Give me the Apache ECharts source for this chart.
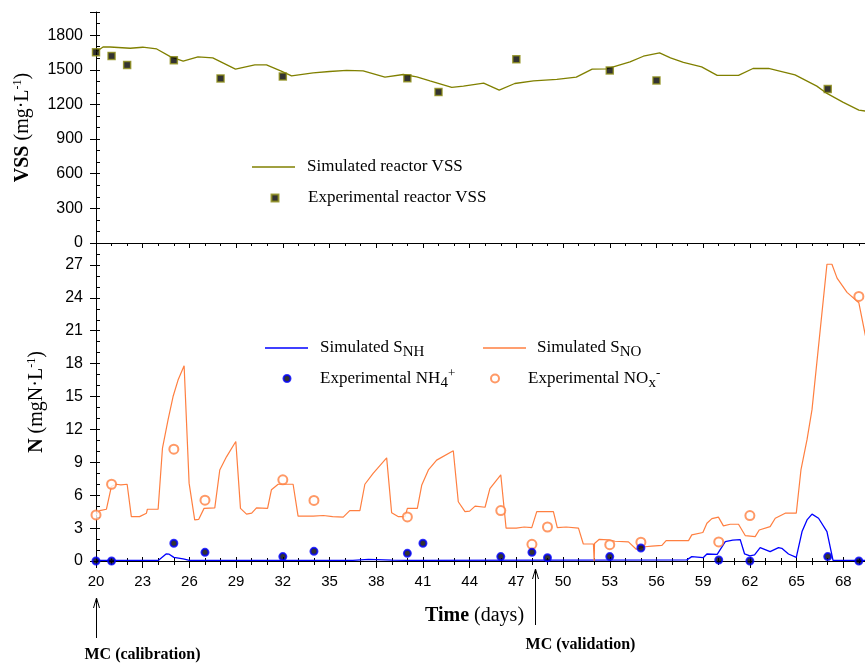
<!DOCTYPE html>
<html>
<head>
<meta charset="utf-8">
<script src="https://cdn.jsdelivr.net/npm/echarts@6/dist/echarts.min.js"></script>
<style>
  html, body { margin: 0; padding: 0; background: #fff; }
  #chart { width: 865px; height: 664px; }
</style>
</head>
<body>
<div id="chart"></div>
<script>
// Day on which the run starts; the x axes count days from here.
const DAY0 = 20;

// Reactor VSS (mg/L)
const vssSimDays = [20, 20.45, 20.9, 22.2, 23, 23.9, 24.8, 25.6, 26.55, 27.5, 28.96, 30.2, 30.95, 31.9, 32.56, 33.95, 35, 36.1, 37.16, 38.56, 39.74, 40.6, 41.45, 42.85, 43.6, 44.9, 45.9, 46.9, 48.1, 49.6, 50.85, 51.87, 52.8, 54.3, 55.16, 56.2, 56.9, 57.73, 58.9, 59.9, 61.27, 62.2, 63.2, 64.9, 66.3, 66.95, 68.0, 69.0, 69.4, 70.5];
const vssSimValues = [1654, 1697, 1697, 1686, 1695, 1680, 1611, 1574, 1611, 1603, 1505, 1542, 1542, 1488, 1447, 1473, 1485, 1494, 1490, 1436, 1459, 1439, 1404, 1347, 1358, 1384, 1324, 1381, 1404, 1416, 1436, 1505, 1508, 1568, 1617, 1646, 1603, 1563, 1525, 1451, 1451, 1511, 1511, 1456, 1358, 1295, 1218, 1151, 1143, 1135];
const vssExpDays = [20, 21, 22, 25, 28, 32, 40, 42, 47, 53, 56, 67];
const vssExpValues = [1652, 1620, 1542, 1583, 1425, 1442, 1427, 1307, 1591, 1494, 1408, 1333];

// Simulated nitrate/nitrite S_NO (mgN/L)
const snoDays = [20, 20.24, 20.67, 20.99, 21.3, 21.6, 22.0, 22.27, 22.8, 23.24, 23.3, 23.99, 24.27, 24.63, 24.95, 25.27, 25.66, 25.98, 26.34, 26.6, 26.94, 27.63, 27.95, 28.38, 28.98, 29.28, 29.67, 30.0, 30.31, 31.02, 31.27, 31.7, 32.66, 32.98, 33.95, 34.6, 35.2, 35.88, 36.3, 36.95, 37.27, 37.8, 38.67, 38.99, 39.4, 39.85, 40.0, 40.64, 40.92, 41.35, 41.88, 42.95, 43.27, 43.7, 44.0, 44.35, 44.99, 45.3, 46.0, 46.34, 47.0, 47.5, 47.99, 48.31, 49.38, 49.63, 50.2, 50.99, 51.3, 51.95, 52.0, 52.02, 52.33, 52.9, 53.34, 54.2, 54.7, 55.27, 55.7, 56.35, 56.62, 58.06, 58.27, 58.98, 59.24, 59.56, 59.98, 60.3, 60.74, 61.27, 61.7, 62.34, 62.6, 63.3, 63.63, 64.27, 64.98, 65.28, 65.67, 65.99, 66.41, 66.95, 67.27, 67.6, 68.24, 69.0, 69.4, 69.8];
const snoValues = [4.2, 4.6, 4.72, 6.8, 7.0, 6.95, 7.0, 4.05, 4.05, 4.36, 4.72, 4.72, 10.3, 12.9, 15.0, 16.5, 17.8, 7.1, 3.75, 3.8, 4.8, 4.85, 8.3, 9.5, 10.9, 4.8, 4.27, 4.36, 4.85, 4.8, 6.5, 7.0, 7.0, 4.1, 4.1, 4.15, 4.05, 4.0, 4.6, 4.6, 7.0, 8.0, 9.4, 4.4, 4.05, 4.05, 4.8, 4.8, 6.9, 8.3, 9.2, 10.05, 5.4, 4.5, 4.55, 5.0, 4.9, 6.6, 7.86, 3.0, 3.0, 3.1, 3.05, 4.5, 4.5, 3.05, 3.1, 3.0, 1.55, 1.55, 0, 1.6, 1.98, 1.92, 1.8, 1.74, 1.07, 1.3, 1.36, 1.42, 1.86, 1.86, 2.38, 2.6, 3.44, 3.87, 4.0, 3.2, 3.35, 3.35, 2.32, 2.22, 2.83, 3.14, 3.9, 4.36, 4.36, 8.3, 11.06, 13.8, 19.6, 27.06, 27.06, 25.8, 24.5, 23.55, 20.7, 18.0];

// Simulated ammonium S_NH (mgN/L)
const snhDays = [20, 24.0, 24.5, 24.7, 25.0, 25.6, 26.0, 36.5, 37.5, 39.0, 40, 57.95, 58.27, 59.0, 59.24, 59.9, 60.42, 60.9, 61.38, 61.66, 62.0, 62.3, 62.66, 63.3, 63.84, 64.05, 64.48, 64.98, 65.35, 65.67, 65.99, 66.41, 66.95, 67.34, 70.5];
const snhValues = [0.05, 0.05, 0.64, 0.62, 0.33, 0.2, 0.05, 0.05, 0.15, 0.08, 0.05, 0.1, 0.4, 0.3, 0.64, 0.6, 1.77, 1.9, 1.95, 0.64, 0.46, 0.55, 1.22, 0.85, 1.22, 1.16, 0.64, 0.33, 2.68, 3.75, 4.27, 3.9, 2.68, 0.05, 0.05];

// Measured NH4+ and NOx- (mgN/L)
const nh4Days = [20, 21, 25, 27, 32, 34, 40, 41, 46, 48, 49, 53, 55, 60, 62, 67, 69];
const nh4Values = [0, 0, 1.62, 0.79, 0.4, 0.88, 0.7, 1.62, 0.4, 0.79, 0.3, 0.4, 1.19, 0.09, 0, 0.4, 0];
const noxDays = [20, 21, 25, 27, 32, 34, 40, 46, 48, 49, 53, 55, 60, 62, 69];
const noxValues = [4.2, 7.0, 10.2, 5.55, 7.4, 5.52, 4.02, 4.6, 1.52, 3.1, 1.49, 1.71, 1.74, 4.14, 24.13];

// Model calibration / validation start days
const mcMarks = [
  { day: 20, label: 'MC (calibration)' },
  { day: 48.2, label: 'MC (validation)' }
];

const pairs = (days, vals) => days.map((d, i) => [d - DAY0, vals[i]]);

const SERIF = '"Liberation Serif", "Times New Roman", serif';
const SANS = '"Liberation Sans", Arial, sans-serif';
const OLIVE = '#808000';
const ORANGE = '#ff7f40';
const BLUE = '#0000ff';

const X_SPAN = 51; // days shown on the time axes (the last few run past the page edge)
const xBase = { type: 'value', min: 0, max: X_SPAN, interval: 3, splitLine: { show: false } };
const blackLine = { show: true, lineStyle: { color: '#000', width: 1 } };

const chart = echarts.init(document.getElementById('chart'), null, { renderer: 'canvas' });

const richLegend = {
  t: { fontFamily: SERIF, fontSize: 17, color: '#000' },
  sub: { fontFamily: SERIF, fontSize: 15, color: '#000', padding: [9, 0, 0, 0] },
  sup: { fontFamily: SERIF, fontSize: 13, color: '#000', padding: [0, 0, 10, 0] }
};
const legendText = {
  'Simulated S_NH': '{t|Simulated S}{sub|NH}',
  'Simulated S_NO': '{t|Simulated S}{sub|NO}',
  'Experimental NH4+': '{t|Experimental NH}{sub|4}{sup|+}',
  'Experimental NOx-': '{t|Experimental NO}{sub|x}{sup|-}'
};
// One legend per entry so each can sit where the figure puts it.
// kind 'line': thin bar icon; kind 'mark': the series symbol, square box.
function legendAt(name, kind, left, centerY, size, textLeft) {
  const iw = kind === 'line' ? 43 : size;
  const ih = kind === 'line' ? 1.3 : size;
  const pad = textLeft - (left + iw + 5);
  return {
    data: [kind === 'line' ? { name: name, icon: 'rect' } : name],
    left: left, top: centerY - 10, itemWidth: iw, itemHeight: ih,
    padding: 0, itemGap: 0, selectedMode: false, symbolKeepAspect: false,
    formatter: n => legendText[n] || n,
    textStyle: { fontFamily: SERIF, fontSize: 17, color: '#000', lineHeight: 20,
      padding: [0, 0, 0, pad], rich: richLegend }
  };
}

const axisName = (text, gap) => ({
  name: text, nameLocation: 'middle', nameRotate: 90, nameGap: gap,
  nameTextStyle: {
    fontFamily: SERIF, fontSize: 20, color: '#000',
    rich: {
      b: { fontFamily: SERIF, fontSize: 20, fontWeight: 'bold', color: '#000' },
      sup: { fontFamily: SERIF, fontSize: 12, color: '#000', padding: [0, 0, 10, 0] }
    }
  }
});

const option = {
  animation: false,
  backgroundColor: '#fff',
  grid: [
    { left: 96, width: 794, top: 12, height: 231, outerBoundsMode: 'none', containLabel: false },
    { left: 96, width: 794, top: 243, height: 318, outerBoundsMode: 'none', containLabel: false }
  ],
  xAxis: [
    // top panel, bottom edge
    Object.assign({}, xBase, {
      gridIndex: 0, position: 'bottom', axisLine: blackLine,
      axisTick: { show: true, inside: false, length: 5, lineStyle: { color: '#000' } },
      minorTick: { show: true, splitNumber: 3, length: 3, lineStyle: { color: '#000' } },
      axisLabel: { show: false }
    }),
    // top panel, frame line
    Object.assign({}, xBase, {
      gridIndex: 0, position: 'top', axisLine: blackLine,
      axisTick: { show: false }, axisLabel: { show: false }
    }),
    // bottom panel, upper edge
    Object.assign({}, xBase, {
      gridIndex: 1, position: 'top', axisLine: blackLine,
      axisTick: { show: true, inside: false, length: 4, lineStyle: { color: '#000' } },
      minorTick: { show: true, splitNumber: 3, length: 3, lineStyle: { color: '#000' } },
      axisLabel: { show: false }
    }),
    // bottom panel, time axis
    Object.assign({}, xBase, {
      gridIndex: 1, position: 'bottom', axisLine: blackLine,
      axisTick: { show: true, inside: false, length: 7, lineStyle: { color: '#000' } },
      minorTick: { show: true, splitNumber: 3, length: 4, lineStyle: { color: '#000' } },
      axisLabel: {
        margin: 13, fontFamily: SANS, fontSize: 15, color: '#000',
        formatter: v => (v <= 48 ? String(v + DAY0) : '')
      }
    })
  ],
  yAxis: [
    Object.assign({
      gridIndex: 0, type: 'value', min: 0, max: 2000, interval: 300,
      axisLine: blackLine, splitLine: { show: false },
      axisTick: { show: true, length: 6, lineStyle: { color: '#000' } },
      axisLabel: { margin: 13, fontFamily: SANS, fontSize: 16, color: '#000',
        formatter: v => (v <= 1800 ? String(v) : '') }
    }, axisName('{b|VSS} (mg·L{sup|-1})', 62)),
    {
      gridIndex: 0, type: 'value', min: 0, max: 2000, interval: 100,
      axisLine: { show: false }, splitLine: { show: false }, axisLabel: { show: false },
      axisTick: { show: true, length: 4, lineStyle: { color: '#000' } }
    },
    Object.assign({
      gridIndex: 1, type: 'value', min: 0, max: 29, interval: 3,
      axisLine: blackLine, splitLine: { show: false },
      axisTick: { show: true, length: 6, lineStyle: { color: '#000' } },
      axisLabel: { margin: 13, fontFamily: SANS, fontSize: 16, color: '#000',
        formatter: v => (v <= 27 ? String(v) : '') }
    }, axisName('{b|N} (mgN·L{sup|-1})', 48)),
    {
      gridIndex: 1, type: 'value', min: 0, max: 29, interval: 1,
      axisLine: { show: false }, splitLine: { show: false }, axisLabel: { show: false },
      axisTick: { show: true, length: 4, lineStyle: { color: '#000' } }
    }
  ],
  legend: [
    legendAt('Simulated reactor VSS', 'line', 252, 167, 0, 307),
    legendAt('Experimental reactor VSS', 'mark', 270.5, 198, 7, 307),
    legendAt('Simulated S_NH', 'line', 265, 348, 0, 320),
    legendAt('Simulated S_NO', 'line', 483, 348, 0, 537),
    legendAt('Experimental NH4+', 'mark', 282.5, 377, 7, 319),
    legendAt('Experimental NOx-', 'mark', 490, 377, 8, 527)
  ],
  series: [
    {
      name: 'Simulated reactor VSS', type: 'line', xAxisIndex: 0, yAxisIndex: 0,
      data: pairs(vssSimDays, vssSimValues), symbol: 'none',
      lineStyle: { color: OLIVE, width: 1.3 }, itemStyle: { color: OLIVE }, z: 2
    },
    {
      name: 'Experimental reactor VSS', type: 'scatter', xAxisIndex: 0, yAxisIndex: 0,
      data: pairs(vssExpDays, vssExpValues), symbol: 'rect', symbolSize: 7,
      itemStyle: { color: '#000', borderColor: '#8c8c14', borderWidth: 1.5 }, z: 3
    },
    {
      name: 'Simulated S_NH', type: 'line', xAxisIndex: 3, yAxisIndex: 2,
      data: pairs(snhDays, snhValues), symbol: 'none',
      lineStyle: { color: BLUE, width: 1.3 }, itemStyle: { color: BLUE }, z: 2
    },
    {
      name: 'Simulated S_NO', type: 'line', xAxisIndex: 3, yAxisIndex: 2,
      data: pairs(snoDays, snoValues), symbol: 'none',
      lineStyle: { color: ORANGE, width: 1.2 }, itemStyle: { color: ORANGE }, z: 2
    },
    {
      name: 'Experimental NH4+', type: 'scatter', xAxisIndex: 3, yAxisIndex: 2,
      data: pairs(nh4Days, nh4Values), symbol: 'circle', symbolSize: 7,
      itemStyle: { color: '#000', borderColor: BLUE, borderWidth: 2 }, z: 4
    },
    {
      name: 'Experimental NOx-', type: 'scatter', xAxisIndex: 3, yAxisIndex: 2,
      data: pairs(noxDays, noxValues), symbol: 'emptyCircle', symbolSize: 9,
      itemStyle: { color: ORANGE, borderColor: ORANGE, borderWidth: 1.2 }, z: 3
    }
  ]
};
chart.setOption(option);

// Axis title and the model-calibration arrows under the time axis
const graphics = [{
  type: 'text', left: 425, top: 606, silent: true,
  style: {
    text: '{b|Time} (days)', fill: '#000', fontFamily: SERIF, fontSize: 20,
    rich: { b: { fontFamily: SERIF, fontSize: 20, fontWeight: 'bold', fill: '#000' } }
  }
}];
const arrowSpecs = [
  { tip: 598, tail: 638, labelY: 655, labelDx: 46 },
  { tip: 569, tail: 625, labelY: 645, labelDx: 45 }
];
mcMarks.forEach((m, i) => {
  const x = Math.round(chart.convertToPixel({ xAxisIndex: 3 }, m.day - DAY0)) + 0.5;
  const s = arrowSpecs[i];
  graphics.push({
    type: 'line', silent: true,
    shape: { x1: x, y1: s.tail, x2: x, y2: s.tip },
    style: { stroke: '#000', lineWidth: 1 }
  });
  graphics.push({
    type: 'polyline', silent: true,
    shape: { points: [[x - 3, s.tip + 10], [x, s.tip], [x + 3, s.tip + 10]] },
    style: { stroke: '#000', lineWidth: 1, fill: null }
  });
  graphics.push({
    type: 'text', silent: true, x: x + s.labelDx, y: s.labelY,
    style: {
      text: m.label, fill: '#000', fontFamily: SERIF, fontSize: 16, fontWeight: 'bold',
      align: 'center', verticalAlign: 'middle'
    }
  });
});
chart.setOption({ graphic: graphics });
</script>
</body>
</html>
